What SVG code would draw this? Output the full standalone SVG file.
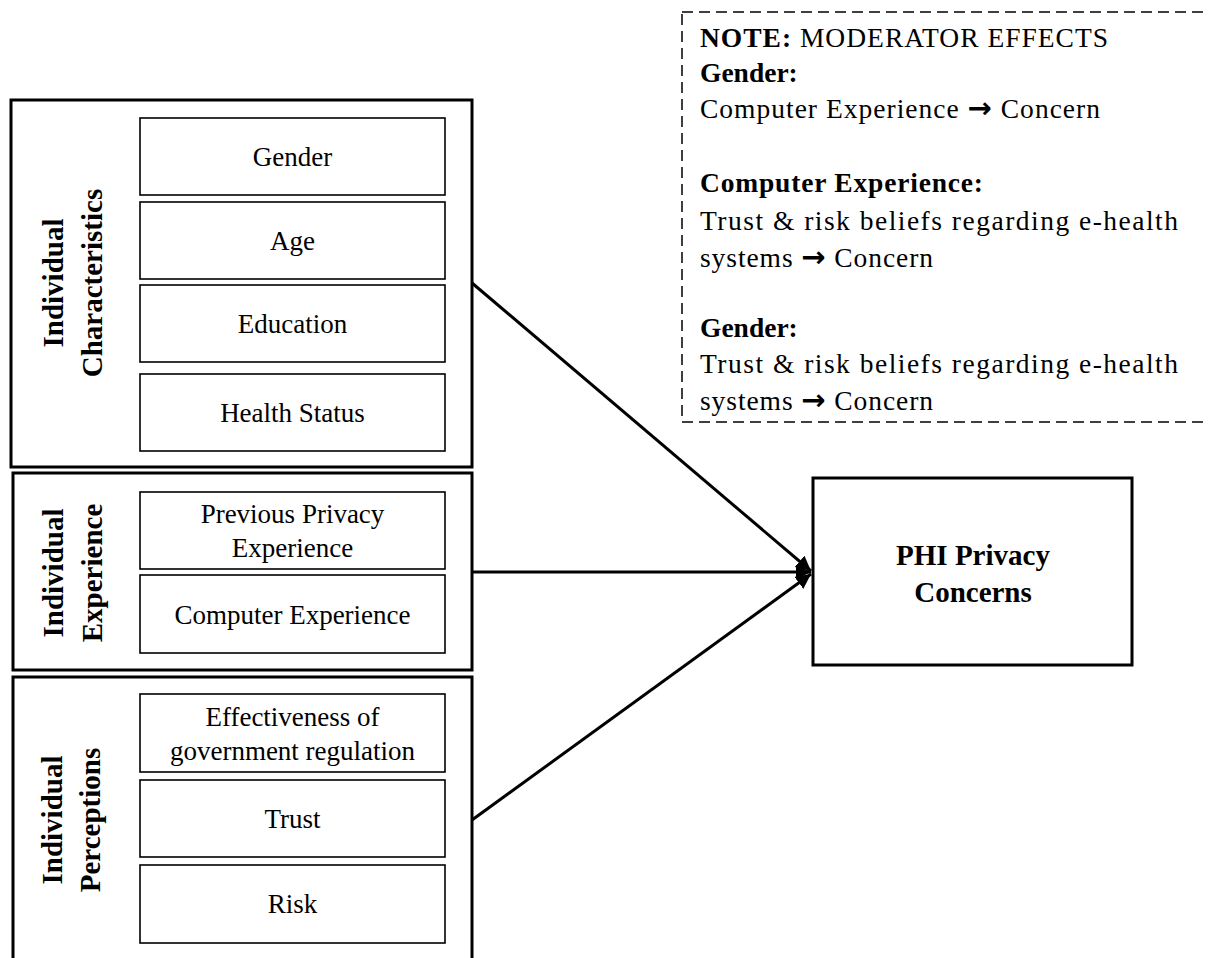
<svg xmlns="http://www.w3.org/2000/svg" width="1208" height="958" viewBox="0 0 1208 958">
<style>
.outer{fill:#fff;stroke:#000;stroke-width:3}
.inner{fill:#fff;stroke:#000;stroke-width:1.6}
.t{font-family:"Liberation Serif","Times New Roman",serif;font-size:27px;fill:#000;text-anchor:middle}
.lbl{font-family:"Liberation Serif","Times New Roman",serif;font-size:29px;font-weight:bold;fill:#000;text-anchor:middle}
.note{font-family:"Liberation Serif","Times New Roman",serif;font-size:27.5px;fill:#000}
.b{font-weight:bold}
.arr{font-family:"DejaVu Sans",sans-serif;font-size:29px;font-weight:bold}
.conn{stroke:#000;stroke-width:3;fill:none}
</style>
<defs>
<marker id="ah" viewBox="0 0 10 10" refX="10" refY="5" markerWidth="5" markerHeight="5" orient="auto" markerUnits="strokeWidth">
<path d="M0,0 L10,5 L0,10 z" fill="#000"/>
</marker>
</defs>
<rect width="1208" height="958" fill="#fff"/>

<g id="note">
<rect x="682" y="12" width="540" height="410" fill="none" stroke="#000" stroke-width="1.5" stroke-dasharray="11 6"/>
<text class="note" x="700" y="47" textLength="408" lengthAdjust="spacing"><tspan class="b">NOTE:</tspan> MODERATOR EFFECTS</text>
<text class="note b" x="700" y="82">Gender:</text>
<text class="note" x="700" y="118" textLength="400" lengthAdjust="spacing">Computer Experience  <tspan class="arr">→</tspan> Concern</text>
<text class="note b" x="700" y="192" textLength="283" lengthAdjust="spacing">Computer Experience:</text>
<text class="note" x="700" y="230" textLength="478" lengthAdjust="spacing">Trust &amp; risk beliefs regarding e-health</text>
<text class="note" x="700" y="267" textLength="233" lengthAdjust="spacing">systems  <tspan class="arr">→</tspan> Concern</text>
<text class="note b" x="700" y="337">Gender:</text>
<text class="note" x="700" y="373" textLength="478" lengthAdjust="spacing">Trust &amp; risk beliefs regarding e-health</text>
<text class="note" x="700" y="410" textLength="233" lengthAdjust="spacing">systems  <tspan class="arr">→</tspan> Concern</text>
</g>

<g id="characteristics">
<rect class="outer" x="11" y="100" width="461" height="367"/>
<text class="lbl" transform="translate(63,283) rotate(-90)"><tspan x="0" y="0">Individual</tspan><tspan x="0" y="39">Characteristics</tspan></text>
<g id="gender"><rect class="inner" x="140" y="118" width="305" height="77"/><text class="t" x="292.5" y="166">Gender</text></g>
<g id="age"><rect class="inner" x="140" y="202" width="305" height="77"/><text class="t" x="292.5" y="250">Age</text></g>
<g id="education"><rect class="inner" x="140" y="285" width="305" height="77"/><text class="t" x="292.5" y="333">Education</text></g>
<g id="health"><rect class="inner" x="140" y="374" width="305" height="77"/><text class="t" x="292.5" y="422">Health Status</text></g>
</g>

<g id="experience">
<rect class="outer" x="13" y="473" width="459" height="197"/>
<text class="lbl" transform="translate(63,573) rotate(-90)"><tspan x="0" y="0">Individual</tspan><tspan x="0" y="39">Experience</tspan></text>
<g id="prev"><rect class="inner" x="140" y="492" width="305" height="77"/><text class="t" x="292.5" y="523">Previous Privacy</text><text class="t" x="292.5" y="557">Experience</text></g>
<g id="computer"><rect class="inner" x="140" y="575" width="305" height="78"/><text class="t" x="292.5" y="624">Computer Experience</text></g>
</g>

<g id="perceptions">
<rect class="outer" x="13" y="677" width="459" height="300"/>
<text class="lbl" transform="translate(62,820) rotate(-90)"><tspan x="0" y="0">Individual</tspan><tspan x="0" y="38">Perceptions</tspan></text>
<g id="regulation"><rect class="inner" x="140" y="694" width="305" height="78"/><text class="t" x="292.5" y="726">Effectiveness of</text><text class="t" x="292.5" y="760">government regulation</text></g>
<g id="trust"><rect class="inner" x="140" y="780" width="305" height="77"/><text class="t" x="292.5" y="828">Trust</text></g>
<g id="risk"><rect class="inner" x="140" y="865" width="305" height="78"/><text class="t" x="292.5" y="913">Risk</text></g>
</g>

<g id="phi">
<rect class="outer" x="813" y="478" width="319" height="187"/>
<text class="lbl" x="973" y="565">PHI Privacy</text>
<text class="lbl" x="973" y="602">Concerns</text>
</g>

<g id="connectors">
<line class="conn" x1="472" y1="283" x2="811" y2="571" marker-end="url(#ah)"/>
<line class="conn" x1="472" y1="572" x2="811" y2="572" marker-end="url(#ah)"/>
<line class="conn" x1="472" y1="820" x2="811" y2="574" marker-end="url(#ah)"/>
</g>
</svg>
